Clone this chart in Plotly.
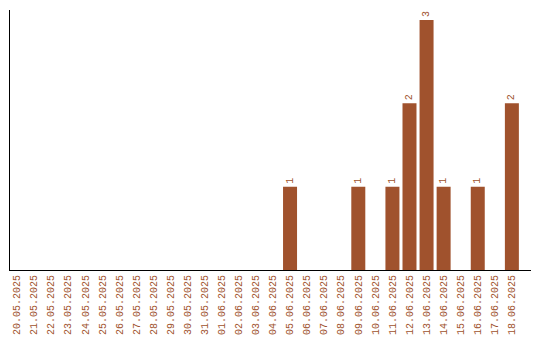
import plotly.graph_objects as go

dates = ["20.05.2025","21.05.2025","22.05.2025","23.05.2025","24.05.2025","25.05.2025",
         "26.05.2025","27.05.2025","28.05.2025","29.05.2025","30.05.2025","31.05.2025",
         "01.06.2025","02.06.2025","03.06.2025","04.06.2025","05.06.2025","06.06.2025",
         "07.06.2025","08.06.2025","09.06.2025","10.06.2025","11.06.2025","12.06.2025",
         "13.06.2025","14.06.2025","15.06.2025","16.06.2025","17.06.2025","18.06.2025"]
counts = [0,0,0,0,0,0,0,0,0,0,0,0,0,0,0,0,1,0,0,0,1,0,1,2,3,1,0,1,0,2]
labels = [str(c) if c > 0 else "" for c in counts]

color = "#A0522D"
font = "Liberation Mono"

fig = go.Figure(go.Bar(
    x=list(range(len(dates))), y=counts, text=labels,
    textposition="outside", textangle=-90, cliponaxis=False,
    textfont=dict(family=font, size=10, color=color),
    marker=dict(color=color, line=dict(width=0)),
))
fig.update_layout(
    width=540, height=340,
    margin=dict(l=10, r=9, t=10, b=70, autoexpand=False),
    plot_bgcolor="white", paper_bgcolor="white",
    bargap=0.18, showlegend=False,
    font=dict(family=font, size=10, color=color),
)
fig.update_xaxes(
    tickmode="array", tickvals=list(range(len(dates))), ticktext=dates,
    tickangle=-90, range=[-0.41, 30.12], automargin=False,
    showline=True, linecolor="black", linewidth=1,
    showgrid=False, zeroline=False, ticks="",
    tickfont=dict(family=font, size=10, color=color),
)
fig.update_yaxes(
    range=[0, 3.12], showline=True, linecolor="black", linewidth=1,
    showgrid=False, zeroline=False, showticklabels=False, ticks="",
    automargin=False,
)
fig.write_html("out.html")
